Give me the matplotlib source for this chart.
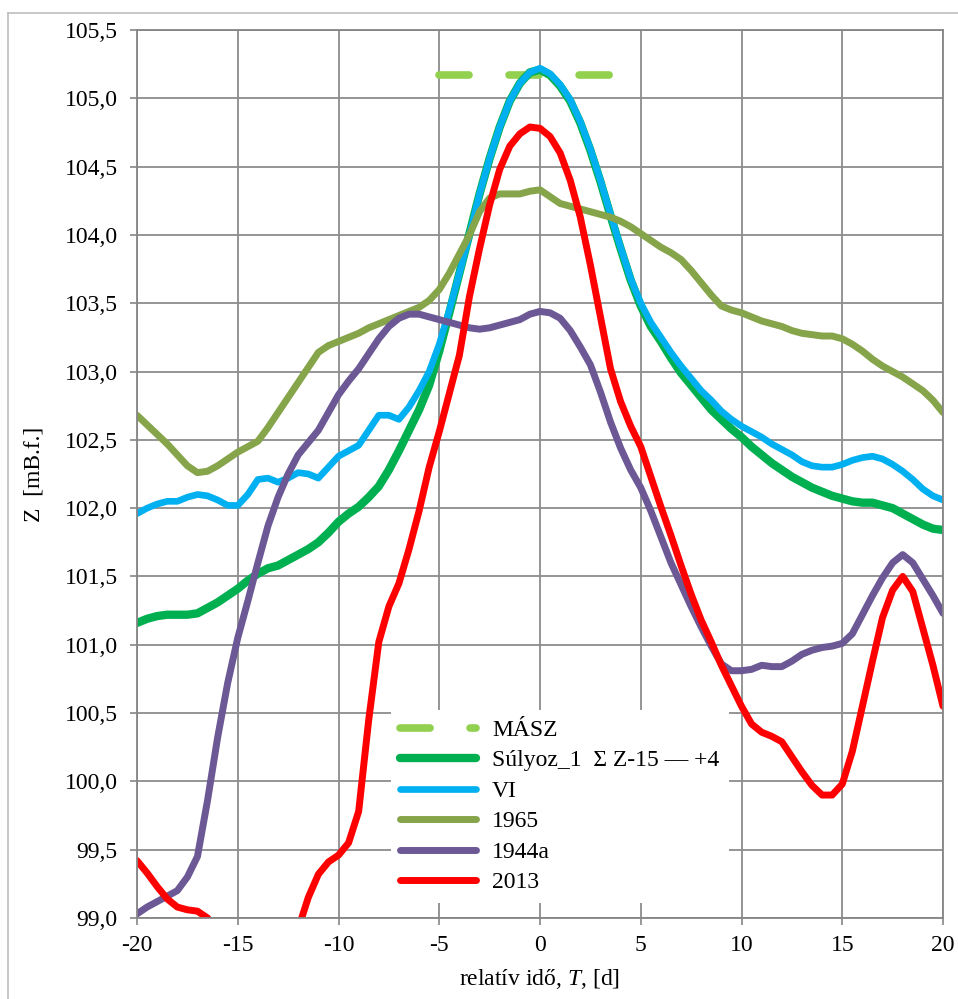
import numpy as np
import matplotlib
matplotlib.use("Agg")
import matplotlib.pyplot as plt
from matplotlib.lines import Line2D

plt.rcParams['font.family'] = ['Liberation Serif', 'DejaVu Serif']
plt.rcParams['mathtext.fontset'] = 'custom'
plt.rcParams['mathtext.rm'] = 'Liberation Serif'
plt.rcParams['mathtext.it'] = 'Liberation Serif:italic'
plt.rcParams['axes.unicode_minus'] = False

# relativ ido (fél napos lépésben leolvasva)
t = np.arange(-20, 20.5, 0.5)

masz_t = [-5.0, 3.5]
masz_z = [105.17, 105.17]

sulyoz = [101.16, 101.19, 101.21, 101.22, 101.22, 101.22, 101.23, 101.27, 101.31, 101.36,
          101.41, 101.47, 101.52, 101.56, 101.58, 101.62, 101.66, 101.70, 101.75, 101.82,
          101.90, 101.96, 102.01, 102.08, 102.16, 102.28, 102.42, 102.57, 102.72, 102.90,
          103.15, 103.43, 103.72, 104.01, 104.30, 104.56, 104.79, 104.98, 105.11, 105.19,
          105.21, 105.17, 105.09, 104.98, 104.82, 104.62, 104.39, 104.14, 103.90, 103.67,
          103.48, 103.33, 103.22, 103.10, 102.99, 102.90, 102.81, 102.72, 102.65, 102.58,
          102.52, 102.45, 102.39, 102.33, 102.28, 102.23, 102.19, 102.15, 102.12, 102.09,
          102.07, 102.05, 102.04, 102.04, 102.02, 102.00, 101.96, 101.92, 101.88, 101.85,
          101.84]

vi = [101.96, 102.00, 102.03, 102.05, 102.05, 102.08, 102.10, 102.09, 102.06, 102.02,
      102.02, 102.10, 102.21, 102.22, 102.19, 102.22, 102.26, 102.25, 102.22, 102.30,
      102.38, 102.42, 102.46, 102.57, 102.68, 102.68, 102.65, 102.74, 102.86, 103.00,
      103.20, 103.45, 103.72, 104.00, 104.30, 104.56, 104.79, 104.98, 105.11, 105.19,
      105.22, 105.18, 105.10, 104.99, 104.83, 104.63, 104.40, 104.15, 103.91, 103.68,
      103.50, 103.36, 103.25, 103.14, 103.04, 102.95, 102.86, 102.79, 102.71, 102.65,
      102.60, 102.56, 102.52, 102.47, 102.43, 102.39, 102.34, 102.31, 102.30, 102.30,
      102.32, 102.35, 102.37, 102.38, 102.36, 102.32, 102.27, 102.21, 102.14, 102.09,
      102.06]

z1965 = [102.68, 102.61, 102.54, 102.47, 102.39, 102.31, 102.26, 102.27, 102.31, 102.36,
         102.41, 102.45, 102.49, 102.59, 102.70, 102.81, 102.92, 103.03, 103.14, 103.19,
         103.22, 103.25, 103.28, 103.32, 103.35, 103.38, 103.41, 103.44, 103.47, 103.52,
         103.60, 103.72, 103.86, 104.00, 104.17, 104.27, 104.30, 104.30, 104.30, 104.32,
         104.33, 104.28, 104.23, 104.21, 104.19, 104.17, 104.15, 104.13, 104.10, 104.06,
         104.01, 103.96, 103.91, 103.87, 103.82, 103.74, 103.65, 103.56, 103.48, 103.45,
         103.43, 103.40, 103.37, 103.35, 103.33, 103.30, 103.28, 103.27, 103.26, 103.26,
         103.24, 103.20, 103.15, 103.09, 103.04, 103.00, 102.96, 102.91, 102.86, 102.79,
         102.70]

z1944a = [99.03, 99.08, 99.12, 99.16, 99.20, 99.30, 99.45, 99.86, 100.32, 100.72,
          101.05, 101.32, 101.60, 101.87, 102.08, 102.25, 102.39, 102.48, 102.57, 102.70,
          102.83, 102.93, 103.02, 103.13, 103.24, 103.33, 103.39, 103.42, 103.42, 103.40,
          103.38, 103.36, 103.34, 103.32, 103.31, 103.32, 103.34, 103.36, 103.38, 103.42,
          103.44, 103.43, 103.39, 103.30, 103.18, 103.05, 102.85, 102.63, 102.44, 102.28,
          102.15, 101.98, 101.79, 101.60, 101.44, 101.28, 101.13, 100.99, 100.86, 100.81,
          100.81, 100.82, 100.85, 100.84, 100.84, 100.88, 100.93, 100.96, 100.98, 100.99,
          101.01, 101.08, 101.22, 101.36, 101.49, 101.60, 101.66, 101.60, 101.48, 101.36,
          101.23]

z2013 = [99.42, 99.33, 99.23, 99.14, 99.08, 99.06, 99.05, 99.00, 98.90, 98.75,
         98.60, 98.50, 98.45, 98.45, 98.50, 98.65, 98.92, 99.15, 99.32, 99.41,
         99.46, 99.55, 99.78, 100.45, 101.02, 101.28, 101.45, 101.70, 101.98, 102.30,
         102.56, 102.84, 103.12, 103.55, 103.90, 104.22, 104.48, 104.65, 104.74, 104.79,
         104.78, 104.72, 104.60, 104.40, 104.13, 103.78, 103.40, 103.02, 102.78, 102.60,
         102.45, 102.23, 102.01, 101.80, 101.58, 101.37, 101.18, 101.02, 100.85, 100.70,
         100.55, 100.42, 100.36, 100.33, 100.29, 100.18, 100.07, 99.97, 99.90, 99.90,
         99.98, 100.22, 100.55, 100.88, 101.20, 101.40, 101.50, 101.39, 101.12, 100.85,
         100.55]

fig = plt.figure(figsize=(9.58, 9.99), dpi=100)
ax = fig.add_axes([137/958, 1 - 918/999, (943 - 137)/958, (918 - 30)/999])

ax.plot(masz_t, masz_z, color="#92D050", lw=5.5, linestyle=(0, (3.93, 5.24)),
        dash_capstyle="round", solid_capstyle="round", label="MÁSZ")
ax.plot(t, sulyoz, color="#00B050", lw=6, solid_capstyle="round", solid_joinstyle="round",
        label="Súlyoz_1  Σ Z-15 — +4")
ax.plot(t, vi, color="#00B0F0", lw=4.8, solid_capstyle="round", solid_joinstyle="round", label="VI")
ax.plot(t, z1965, color="#86A44A", lw=5, solid_capstyle="round", solid_joinstyle="round", label="1965")
ax.plot(t, z1944a, color="#6B5894", lw=5, solid_capstyle="round", solid_joinstyle="round", label="1944a")
ax.plot(t, z2013, color="#FF0000", lw=5, solid_capstyle="round", solid_joinstyle="round", label="2013")

ax.set_xlim(-20, 20)
ax.set_ylim(99, 105.5)
xt = np.arange(-20, 21, 5)
yt = np.arange(99, 105.51, 0.5)
ax.set_xticks(xt)
ax.set_xticklabels([str(v) for v in xt])
ax.set_yticks(yt)
ax.set_yticklabels([f"{v:.1f}".replace(".", ",") for v in yt])
ax.tick_params(axis="both", direction="out", length=5, width=1.2, color="#868686",
               labelsize=17, labelcolor="black")
ax.tick_params(axis="y", pad=9)
ax.tick_params(axis="x", pad=7)
ax.grid(True, color="#8C8C8C", lw=1.3)
ax.set_axisbelow(True)
for s in ax.spines.values():
    s.set_color("#868686")
    s.set_linewidth(1.3)

ax.set_ylabel("Z  [mB.f.]", fontsize=17, labelpad=14)
ax.set_xlabel("relatív idő, $T$, [d]", fontsize=17, labelpad=8)

leg = ax.legend(loc="upper left", bbox_to_anchor=(391/958, 1 - 710/999),
                bbox_transform=fig.transFigure, borderaxespad=0, fontsize=17,
                frameon=True, fancybox=False, edgecolor="none", facecolor="white",
                framealpha=1, handlelength=3.2, handletextpad=0.68, labelspacing=0.38,
                borderpad=0.4)

# kulso keret
x0 = 8/958
y0 = 1 - 13/999
fig.add_artist(Line2D([x0, x0], [0, y0], color="#BFBFBF", lw=1.2))
fig.add_artist(Line2D([x0, 1], [y0, y0], color="#BFBFBF", lw=1.2))

fig.savefig("out.png", dpi=100)
